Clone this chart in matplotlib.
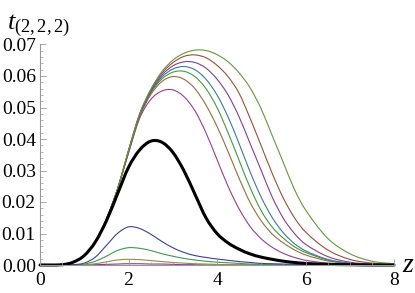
import numpy as np
import matplotlib
matplotlib.use("Agg")
import matplotlib.pyplot as plt
from matplotlib.path import Path
from matplotlib.patches import PathPatch
from matplotlib.ticker import MultipleLocator, FormatStrFormatter
import colorsys

plt.rcParams['font.family'] = ['Liberation Serif', 'DejaVu Serif']
plt.rcParams['mathtext.fontset'] = 'custom'
plt.rcParams['mathtext.rm'] = 'Liberation Serif'
plt.rcParams['mathtext.it'] = 'Liberation Serif:italic'

# ---- data ----
z = [0, 0.5, 0.75, 1, 1.25, 1.5, 1.75, 2, 2.25, 2.5, 2.75, 3, 3.25, 3.5,
     3.75, 4, 4.25, 4.5, 4.75, 5, 5.25, 5.5, 5.75, 6, 6.5, 7, 7.5, 8]

rise = [0, 0.0001, 0.0009, 0.003, 0.0075, 0.0145, 0.0240]

t_black = [0, 0.0001, 0.0009, 0.003, 0.0073, 0.0140, 0.0225,
           0.0310, 0.0365, 0.0393, 0.0390, 0.0358, 0.0300, 0.0225, 0.0150,
           0.0100, 0.0070, 0.0050, 0.0035, 0.0025, 0.0018, 0.0012, 0.0008,
           0.0005, 0.0002, 0.0001, 0, 0]

t_magenta = rise + [0.0355, 0.0465, 0.0525, 0.0552, 0.0556, 0.0535, 0.0490,
                    0.0420, 0.0335, 0.0250, 0.0178, 0.0122, 0.0083, 0.0056,
                    0.0037, 0.0024, 0.0015, 0.0006, 0.0002, 0, 0]
t_tan = rise + [0.0358, 0.0470, 0.0540, 0.0582, 0.0598, 0.0590, 0.0560,
                0.0508, 0.0440, 0.0360, 0.0275, 0.0198, 0.0140, 0.0098,
                0.0070, 0.0048, 0.0032, 0.0013, 0.0004, 0.0001, 0]
t_green = rise + [0.0360, 0.0472, 0.0545, 0.0590, 0.0612, 0.0615, 0.0598,
                  0.0560, 0.0500, 0.0420, 0.0332, 0.0245, 0.0172, 0.0120,
                  0.0085, 0.0058, 0.0040, 0.0016, 0.0005, 0.0001, 0]
t_blue = rise + [0.0361, 0.0474, 0.0548, 0.0596, 0.0622, 0.0630, 0.0620,
                 0.0590, 0.0540, 0.0470, 0.0385, 0.0295, 0.0215, 0.0150,
                 0.0102, 0.0068, 0.0045, 0.0018, 0.0006, 0.0002, 0]
t_purple = rise + [0.0362, 0.0476, 0.0551, 0.0602, 0.0632, 0.0645, 0.0643,
                   0.0625, 0.0590, 0.0540, 0.0470, 0.0385, 0.0300, 0.0215,
                   0.0148, 0.0100, 0.0066, 0.0027, 0.0009, 0.0003, 0.0001]
t_red = rise + [0.0363, 0.0478, 0.0554, 0.0608, 0.0642, 0.0662, 0.0667,
                0.0658, 0.0634, 0.0598, 0.0545, 0.0465, 0.0378, 0.0290,
                0.0212, 0.0150, 0.0105, 0.0048, 0.0018, 0.0006, 0.0002]
t_lgreen = rise + [0.0364, 0.0480, 0.0557, 0.0613, 0.0650, 0.0672, 0.0682,
                   0.0681, 0.0668, 0.0645, 0.0610, 0.0562, 0.0495, 0.0410,
                   0.0325, 0.0240, 0.0175, 0.0085, 0.0036, 0.0012, 0.0004]

t_low_blue = [0, 0, 0.0001, 0.0006, 0.0025, 0.0062, 0.0100,
              0.0121, 0.0116, 0.0098, 0.0075, 0.0055, 0.0040, 0.0030, 0.0024,
              0.0019, 0.0015, 0.0011, 0.0008, 0.0005, 0.0004, 0.0003, 0.0002,
              0.0001, 0, 0, 0, 0]
t_low_green = [0, 0, 0, 0.0003, 0.0012, 0.0028, 0.0046,
               0.0055, 0.0053, 0.0046, 0.0036, 0.0028, 0.0021, 0.0016, 0.0012,
               0.0009, 0.0007, 0.0005, 0.0003, 0.0002, 0.0001, 0.0001, 0,
               0, 0, 0, 0, 0]
t_low_tan = [0, 0, 0, 0.0001, 0.0004, 0.0010, 0.0016,
             0.0018, 0.0017, 0.0014, 0.0011, 0.0008, 0.0006, 0.0004, 0.0003,
             0.0002, 0.0001, 0.0001, 0, 0, 0, 0, 0, 0, 0, 0, 0, 0]
t_low_purple = [0, 0, 0, 0, 0.0001, 0.0002, 0.0003,
                0.0004, 0.0004, 0.0003, 0.0003, 0.0002, 0.0001, 0.0001, 0,
                0, 0, 0, 0, 0, 0, 0, 0, 0, 0, 0, 0, 0]

thin_series = [
    (t_low_purple, 0.7946), (t_low_tan, 0.1421), (t_low_green, 0.3782),
    (t_low_blue, 0.67),
    (t_magenta, 0.8503), (t_tan, 0.0864), (t_green, 0.3225),
    (t_blue, 0.5585), (t_purple, 0.7946), (t_red, 0.0307), (t_lgreen, 0.2667),
]

x_ticks = [0, 2, 4, 6, 8]
y_ticks = [0.00, 0.01, 0.02, 0.03, 0.04, 0.05, 0.06, 0.07]


def smooth_path(x, y):
    x = np.asarray(x, float)
    y = np.asarray(y, float)
    h = np.diff(x)
    d = np.diff(y) / h
    m = np.zeros_like(y)
    for k in range(1, len(x) - 1):
        if d[k - 1] == 0 or d[k] == 0:
            m[k] = 0.0
        else:
            m[k] = (y[k + 1] - y[k - 1]) / (x[k + 1] - x[k - 1])
    m[0] = d[0]
    m[-1] = d[-1]
    verts = [(x[0], y[0])]
    codes = [Path.MOVETO]
    for k in range(len(x) - 1):
        verts += [(x[k] + h[k] / 3, y[k] + m[k] * h[k] / 3),
                  (x[k + 1] - h[k] / 3, y[k + 1] - m[k + 1] * h[k] / 3),
                  (x[k + 1], y[k + 1])]
        codes += [Path.CURVE4] * 3
    return Path(verts, codes)


fig = plt.figure(figsize=(4.15, 2.93), dpi=100)
ax = fig.add_axes([40 / 415, 28 / 293, 354 / 415, 220.5 / 293])
ax.set_xlim(0, 8)
ax.set_ylim(0, 0.07)

for vals, hue in thin_series:
    col = colorsys.hsv_to_rgb(hue, 0.6, 0.6)
    ax.add_patch(PathPatch(smooth_path(z, vals), fill=False, edgecolor=col,
                           lw=0.8, clip_on=False, capstyle='round'))
ax.add_patch(PathPatch(smooth_path(z, t_black), fill=False, edgecolor='black',
                       lw=2.2, clip_on=False, capstyle='round'))

for s in ['top', 'right']:
    ax.spines[s].set_visible(False)
for s in ['left', 'bottom']:
    ax.spines[s].set_color('#999999')
    ax.spines[s].set_linewidth(0.8)

ax.set_xticks(x_ticks)
ax.set_yticks(y_ticks)
ax.xaxis.set_minor_locator(MultipleLocator(0.5))
ax.yaxis.set_minor_locator(MultipleLocator(0.002))
ax.yaxis.set_major_formatter(FormatStrFormatter('%.2f'))
ax.tick_params(which='major', direction='in', length=4, width=0.6,
               color='#999999', labelsize=14, labelcolor='black')
ax.tick_params(which='minor', direction='in', length=2.2, width=0.5,
               color='#999999')
ax.tick_params(axis='y', which='major', pad=3)
ax.tick_params(axis='x', which='major', pad=5)

fig.text(7 / 415, 1 - 29 / 293, r'$t_{(2,2,2)}$', fontsize=19,
         ha='left', va='baseline')
fig.text(402 / 415, 1 - 272 / 293, r'$z$', fontsize=20,
         ha='left', va='baseline')

fig.savefig('out.png', dpi=100)
